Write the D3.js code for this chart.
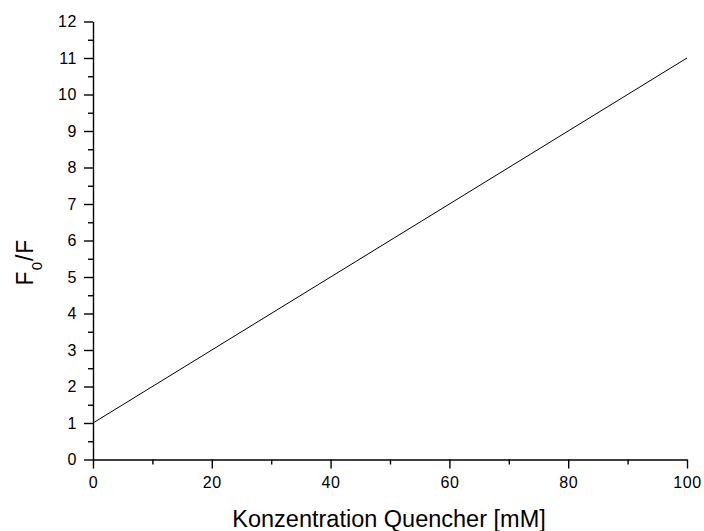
<!DOCTYPE html>
<html>
<head>
<meta charset="utf-8">
<script src="https://cdn.jsdelivr.net/npm/d3@7"></script>
<style>
  body { margin: 0; background: #fff; }
  text { font-family: "Liberation Sans", Arial, sans-serif; fill: #000; }
</style>
</head>
<body>
<div id="chart"></div>
<script>
// data: Stern-Volmer line
var concentration = [0, 100];
var ratio = [1, 11];
var xTicks = [0, 20, 40, 60, 80, 100];
var yTicks = [0, 1, 2, 3, 4, 5, 6, 7, 8, 9, 10, 11, 12];

var width = 704, height = 531;
var margin = {top: 21.5, right: 17, bottom: 71.5, left: 93};
var w = width - margin.left - margin.right,
    h = height - margin.top - margin.bottom;

var svg = d3.select("#chart").append("svg")
    .attr("width", width)
    .attr("height", height);

var g = svg.append("g")
    .attr("transform", "translate(" + margin.left + "," + margin.top + ")");

var x = d3.scaleLinear().domain([0, 100]).range([0, w]);
var y = d3.scaleLinear().domain([0, 12]).range([h, 0]);

// minor ticks
var xMinor = d3.range(10, 100, 20);
var yMinor = d3.range(0.5, 12, 1);

g.append("g")
    .attr("transform", "translate(0," + h + ")")
    .call(d3.axisBottom(x).tickValues(xMinor).tickSize(5).tickFormat(""))
    .call(function(s) { s.select(".domain").remove(); });

g.append("g")
    .call(d3.axisLeft(y).tickValues(yMinor).tickSize(5).tickFormat(""))
    .call(function(s) { s.select(".domain").remove(); });

g.append("g")
    .attr("transform", "translate(0," + h + ")")
    .call(d3.axisBottom(x).tickValues(xTicks).tickSize(9).tickSizeOuter(0).tickPadding(8.5));

g.append("g")
    .call(d3.axisLeft(y).tickValues(yTicks).tickSize(9).tickSizeOuter(0).tickPadding(7));

g.selectAll(".tick text")
    .style("font-size", "16px")
    .style("letter-spacing", "0.6px")
    .style("font-family", "Liberation Sans, Arial, sans-serif");
g.selectAll(".domain, .tick line").attr("stroke", "#000").attr("stroke-width", 1.4);

var line = d3.line()
    .x(function(d, i) { return x(concentration[i]); })
    .y(function(d) { return y(d); });

g.append("path")
    .datum(ratio)
    .attr("fill", "none")
    .attr("stroke", "#000")
    .attr("stroke-width", 1)
    .attr("d", line);

// axis titles
svg.append("text")
    .attr("x", 389)
    .attr("y", 527)
    .attr("text-anchor", "middle")
    .style("font-size", "23.5px")
    .text("Konzentration Quencher [mM]");

var yt = svg.append("text")
    .attr("transform", "translate(33,262) rotate(-90)")
    .attr("text-anchor", "middle")
    .style("font-size", "23px")
    .style("letter-spacing", "1px");
yt.append("tspan").text("F");
yt.append("tspan").attr("baseline-shift", "sub").style("font-size", "15px").text("0");
yt.append("tspan").text("/F");
</script>
</body>
</html>
